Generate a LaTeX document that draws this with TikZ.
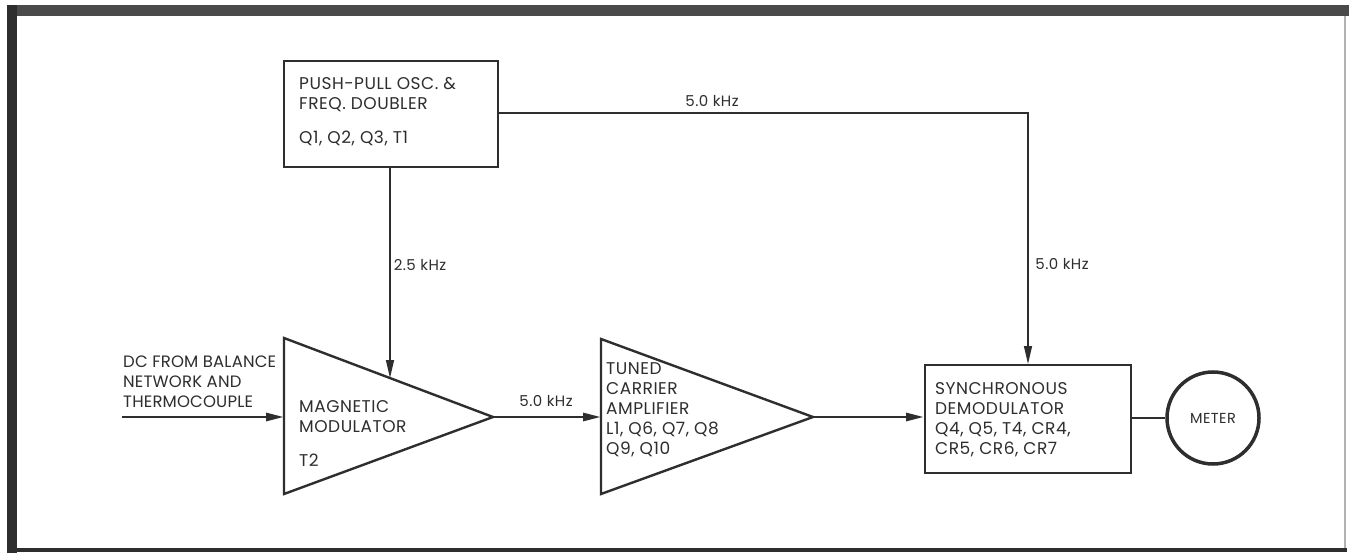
\documentclass[tikz,border=0pt]{standalone}
\usepackage{fontspec}
\setmainfont{Poppins}[LetterSpace=3]
\usetikzlibrary{arrows.meta}
\definecolor{lc}{HTML}{2E2E2E}
\definecolor{band}{HTML}{4A4A4A}
\begin{document}
\begin{tikzpicture}[x=1pt,y=-1pt,
  ln/.style={draw=lc, line width=1.4pt},
  heavy/.style={draw=lc, line width=2.8pt},
  blk/.style={draw=lc, line width=2.4pt, fill=white},
  tip/.style={-{Triangle[length=18pt,width=8pt]}},
  lbl/.style={font=\fontsize{15}{17}\selectfont, text=lc, inner sep=0pt},
  txt/.style={font=\fontsize{17}{20}\selectfont, align=left, text=lc, inner sep=0pt, anchor=north west}]
\useasboundingbox (0,0) rectangle (1349,553);
% frame
\fill[white] (0,0) rectangle (1349,553);
\fill[band] (7,5) rectangle (1349,16);
\fill[lc] (7,5) rectangle (17,553);
\fill[lc] (17,548) rectangle (1347,552);
\draw[gray!60, line width=1.5pt] (1345,16) -- (1345,548);
% oscillator box
\node[blk, minimum width=214pt, minimum height=106pt, anchor=north west] (osc) at (283,60) {};
\node[txt] (osct) at (299,77) {PUSH-PULL OSC. \&\\FREQ. DOUBLER\\[14pt]Q1, Q2, Q3, T1};
% magnetic modulator
\coordinate (m1t) at (284,338);
\coordinate (m1b) at (284,494);
\coordinate (m1a) at (493,417);
\coordinate (m1w) at (284,417);
\coordinate (m1in) at (390,378);
\draw[blk, line join=miter] (m1t) -- (m1a) -- (m1b) -- cycle;
\node[txt] (m1txt) at (299,400) {MAGNETIC\\MODULATOR\\[14pt]T2};
% tuned carrier amplifier
\coordinate (m2t) at (601,339);
\coordinate (m2b) at (601,494);
\coordinate (m2a) at (813,417);
\coordinate (m2w) at (601,417);
\draw[blk, line join=miter] (m2t) -- (m2a) -- (m2b) -- cycle;
\node[txt] (m2txt) at (606,362) {TUNED\\CARRIER\\AMPLIFIER\\L1, Q6, Q7, Q8\\Q9, Q10};
% synchronous demodulator
\node[blk, minimum width=206pt, minimum height=108pt, anchor=north west] (dem) at (924,364) {};
\node[txt] (demt) at (935,382) {SYNCHRONOUS\\DEMODULATOR\\Q4, Q5, T4, CR4,\\CR5, CR6, CR7};
% meter
\node[draw=lc, line width=3.5pt, circle, minimum size=92pt, inner sep=0pt,
      font=\fontsize{14.5}{17}\selectfont, text=lc] (meter) at (1213,418) {METER};
% input text
\node[txt, font=\fontsize{16.5}{20}\selectfont\addfontfeature{LetterSpace=1}] (dct) at (123,356) {DC FROM BALANCE\\NETWORK AND\\THERMOCOUPLE};
\coordinate (dcin) at (122,417);
% connectors
\coordinate (oscb) at (390,166);
\draw[ln, tip] (oscb) -- (m1in);
\coordinate (osce) at (497,113);
\coordinate (dtop) at (1028,364);
\draw[ln, tip] (osce) -- (1028,113) -- (dtop);
\draw[heavy, tip] (dcin) -- (m1w);
\draw[heavy, tip] (m1a) -- (m2w);
\draw[heavy, tip] (m2a) -- (dem.west |- m2a);
\draw[heavy] (dem.east |- meter) -- (meter.west);
% labels
\node[lbl] (f1) at (420,265) {2.5 kHz};
\node[lbl] (f2) at (712,101) {5.0 kHz};
\node[lbl] (f3) at (1062,264) {5.0 kHz};
\node[lbl] (f4) at (546,401) {5.0 kHz};
\end{tikzpicture}
\end{document}
